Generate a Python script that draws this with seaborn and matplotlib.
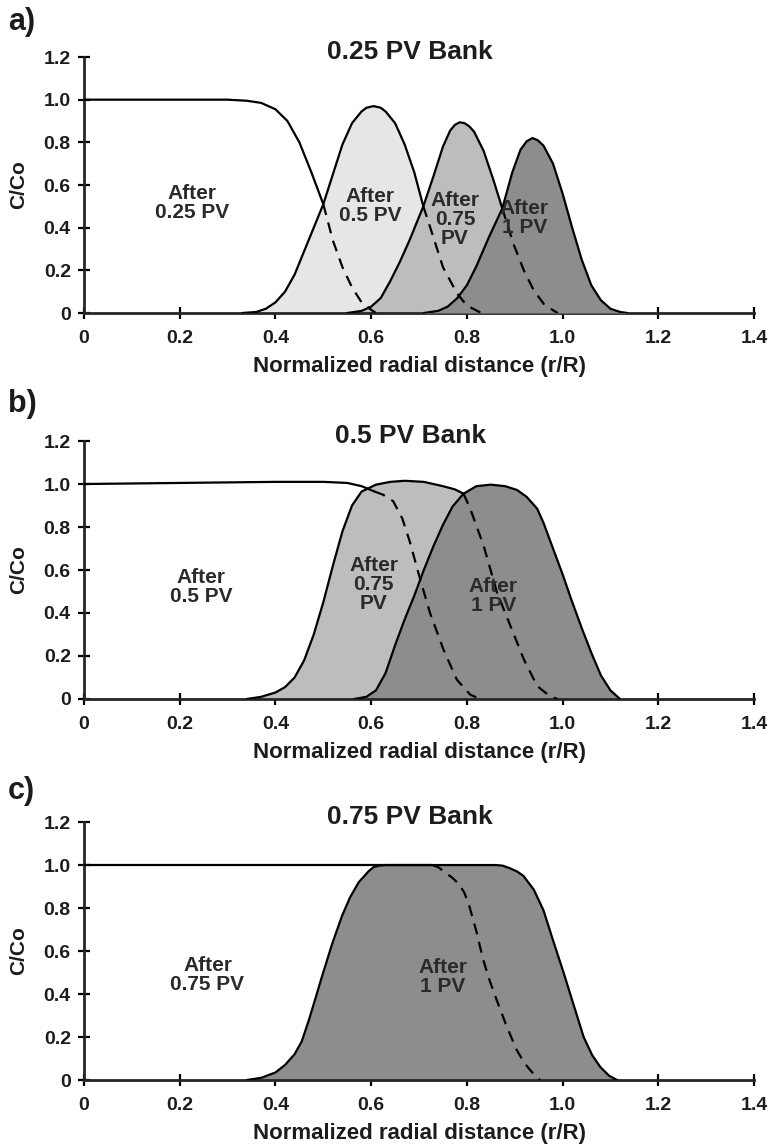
import numpy as np
import pandas as pd
import seaborn as sns
import matplotlib.pyplot as plt

# ---- panel a: 0.25 PV bank ----
a_025_x = [0, 0.30, 0.34, 0.37, 0.40, 0.425, 0.45, 0.475, 0.50, 0.52, 0.54, 0.56, 0.58, 0.60, 0.61]
a_025_y = [1.0, 1.0, 0.995, 0.985, 0.955, 0.90, 0.80, 0.66, 0.51, 0.34, 0.215, 0.12, 0.05, 0.015, 0.0]

a_05_x = [0.33, 0.36, 0.38, 0.40, 0.42, 0.44, 0.46, 0.48, 0.50, 0.52, 0.54, 0.56, 0.58, 0.59, 0.605,
          0.62, 0.63, 0.65, 0.67, 0.69, 0.709, 0.73, 0.75, 0.78, 0.80, 0.82, 0.83]
a_05_y = [0, 0.005, 0.02, 0.05, 0.10, 0.18, 0.29, 0.40, 0.51, 0.65, 0.79, 0.89, 0.945, 0.962, 0.97,
          0.962, 0.945, 0.89, 0.79, 0.66, 0.50, 0.355, 0.215, 0.09, 0.035, 0.012, 0.0]

a_075_x = [0.55, 0.58, 0.60, 0.62, 0.64, 0.66, 0.68, 0.709, 0.73, 0.75, 0.765, 0.775, 0.785, 0.795,
           0.805, 0.815, 0.835, 0.856, 0.874, 0.898, 0.919, 0.94, 0.961, 0.982, 0.99]
a_075_y = [0, 0.01, 0.03, 0.07, 0.15, 0.24, 0.34, 0.50, 0.64, 0.78, 0.855, 0.882, 0.894, 0.89,
           0.875, 0.85, 0.76, 0.62, 0.49, 0.32, 0.20, 0.105, 0.042, 0.01, 0.0]

a_1_x = [0.71, 0.74, 0.76, 0.78, 0.80, 0.82, 0.845, 0.874, 0.895, 0.912, 0.925, 0.937, 0.948, 0.96,
         0.98, 1.0, 1.02, 1.04, 1.06, 1.08, 1.10, 1.12, 1.135]
a_1_y = [0, 0.01, 0.03, 0.07, 0.13, 0.22, 0.35, 0.49, 0.66, 0.765, 0.805, 0.82, 0.81, 0.785,
         0.70, 0.56, 0.40, 0.25, 0.13, 0.06, 0.02, 0.005, 0.0]

# ---- panel b: 0.5 PV bank ----
b_05_x = [0, 0.2, 0.4, 0.5, 0.55, 0.58, 0.607, 0.625, 0.646, 0.665, 0.681, 0.702, 0.723, 0.751,
          0.779, 0.807, 0.828]
b_05_y = [1.0, 1.005, 1.01, 1.01, 1.005, 0.99, 0.965, 0.95, 0.92, 0.84, 0.73, 0.56, 0.40, 0.23,
          0.09, 0.02, 0.0]

b_075_x = [0.34, 0.37, 0.40, 0.42, 0.44, 0.46, 0.48, 0.50, 0.52, 0.54, 0.56, 0.58, 0.61, 0.64,
           0.67, 0.71, 0.75, 0.775, 0.793, 0.807, 0.835, 0.863, 0.891, 0.919, 0.947, 0.975, 0.99]
b_075_y = [0, 0.01, 0.03, 0.055, 0.10, 0.18, 0.30, 0.45, 0.62, 0.78, 0.90, 0.965, 0.997, 1.01,
           1.015, 1.01, 0.99, 0.975, 0.955, 0.885, 0.713, 0.495, 0.34, 0.184, 0.06, 0.01, 0.0]

b_1_x = [0.565, 0.59, 0.61, 0.63, 0.65, 0.67, 0.69, 0.71, 0.73, 0.75, 0.77, 0.793, 0.82, 0.85,
         0.88, 0.905, 0.925, 0.947, 0.96, 0.975, 1.0, 1.018, 1.04, 1.06, 1.08, 1.10, 1.12]
b_1_y = [0, 0.01, 0.04, 0.12, 0.25, 0.37, 0.48, 0.60, 0.71, 0.81, 0.895, 0.955, 0.99, 0.997,
         0.99, 0.972, 0.94, 0.885, 0.82, 0.73, 0.58, 0.464, 0.33, 0.215, 0.11, 0.04, 0.0]

# ---- panel c: 0.75 PV bank ----
c_075_x = [0, 0.3, 0.6, 0.728, 0.74, 0.755, 0.77, 0.784, 0.795, 0.805, 0.82, 0.834, 0.848, 0.862,
           0.883, 0.904, 0.92, 0.932, 0.945, 0.953]
c_075_y = [1.0, 1.0, 1.0, 1.0, 0.99, 0.965, 0.94, 0.91, 0.87, 0.81, 0.69, 0.56, 0.46, 0.374,
           0.25, 0.14, 0.08, 0.047, 0.015, 0.0]

c_1_x = [0.34, 0.37, 0.40, 0.42, 0.44, 0.455, 0.47, 0.485, 0.497, 0.518, 0.539, 0.556, 0.574,
         0.595, 0.605, 0.616, 0.63, 0.70, 0.80, 0.862, 0.875, 0.89, 0.905, 0.918, 0.94, 0.96,
         0.98, 1.002, 1.023, 1.044, 1.062, 1.079, 1.097, 1.114]
c_1_y = [0, 0.01, 0.035, 0.07, 0.12, 0.18, 0.28, 0.39, 0.48, 0.63, 0.763, 0.85, 0.92,
         0.972, 0.99, 0.997, 1.0, 1.0, 1.0, 1.0, 0.997, 0.985, 0.97, 0.95, 0.885, 0.79,
         0.65, 0.50, 0.35, 0.20, 0.115, 0.06, 0.02, 0.0]

x_ticks = [0, 0.2, 0.4, 0.6, 0.8, 1.0, 1.2, 1.4]
x_ticklabels = ['0', '0.2', '0.4', '0.6', '0.8', '1.0', '1.2', '1.4']
y_ticks = [0, 0.2, 0.4, 0.6, 0.8, 1.0, 1.2]
y_ticklabels = ['0', '0.2', '0.4', '0.6', '0.8', '1.0', '1.2']

LIGHT, MID, DARK = '#e6e6e6', '#bdbdbd', '#8d8d8d'
TXT = '#1c1c1c'

sns.set_style('ticks')
plt.rcParams['font.family'] = ['Liberation Sans', 'DejaVu Sans']
plt.rcParams['font.weight'] = 'bold'

# curvas: (x, y, x onde começa a cauda tracejada, cor de preenchimento)
paineis = [
    dict(letra='a)', titulo='0.25 PV Bank',
         curvas=[(a_025_x, a_025_y, 0.50, None), (a_05_x, a_05_y, 0.709, LIGHT),
                 (a_075_x, a_075_y, 0.874, MID), (a_1_x, a_1_y, None, DARK)],
         textos=[(0.226, 0.518, 'After\n0.25 PV'), (0.598, 0.50, 'After\n0.5 PV'),
                 (0.775, 0.436, 'After\n0.75\nPV'), (0.92, 0.445, 'After\n1 PV')]),
    dict(letra='b)', titulo='0.5 PV Bank',
         curvas=[(b_05_x, b_05_y, 0.607, None), (b_075_x, b_075_y, 0.793, MID),
                 (b_1_x, b_1_y, None, DARK)],
         textos=[(0.244, 0.52, 'After\n0.5 PV'), (0.605, 0.534, 'After\n0.75\nPV'),
                 (0.855, 0.477, 'After\n1 PV')]),
    dict(letra='c)', titulo='0.75 PV Bank',
         curvas=[(c_075_x, c_075_y, 0.728, None), (c_1_x, c_1_y, None, DARK)],
         textos=[(0.258, 0.49, 'After\n0.75 PV'), (0.75, 0.48, 'After\n1 PV')]),
]

fig = plt.figure(figsize=(7.68, 11.47), dpi=100)
posicoes = [[0.1094, 0.7271, 0.8724, 0.2232],
            [0.1094, 0.3906, 0.8724, 0.2249],
            [0.1094, 0.0584, 0.8724, 0.2249]]
letra_y = [0.981, 0.648, 0.310]

for p, pos, ly in zip(paineis, posicoes, letra_y):
    ax = fig.add_axes(pos)
    z = 1
    for x, y, corte, cor in p['curvas']:
        df = pd.DataFrame({'x': x, 'y': y})
        if cor is not None:
            ax.fill_between(df['x'], 0, df['y'], color=cor, lw=0, zorder=z)
            z += 1
        if corte is None:
            solido, cauda = df, None
        else:
            solido, cauda = df[df['x'] <= corte], df[df['x'] >= corte]
        sns.lineplot(data=solido, x='x', y='y', ax=ax, color='black', lw=1.6,
                     sort=False, estimator=None, zorder=10)
        if cauda is not None:
            sns.lineplot(data=cauda, x='x', y='y', ax=ax, color='black', lw=1.6,
                         linestyle=(0, (5, 3.5)), sort=False, estimator=None, zorder=10)

    for tx, ty, s in p['textos']:
        ax.text(tx, ty, s, ha='center', va='center', fontsize=15, color='#2a2a2a',
                fontweight='bold', linespacing=1.0, zorder=20)

    ax.text(0.487, 1.02, p['titulo'], transform=ax.transAxes, ha='center', va='center',
            fontsize=19, fontweight='bold', color=TXT)
    fig.text(0.01, ly, p['letra'], ha='left', va='center', fontsize=22, fontweight='bold',
             color=TXT)

    ax.set_xlim(0, 1.4)
    ax.set_ylim(0, 1.2)
    ax.set_xticks(x_ticks, x_ticklabels)
    ax.set_yticks(y_ticks, y_ticklabels)
    ax.set_xlabel('Normalized radial distance (r/R)', fontsize=16, fontweight='bold',
                  labelpad=6, color=TXT)
    ax.set_ylabel('C/Co', fontsize=15, fontweight='bold', labelpad=11, color=TXT)
    ax.tick_params(direction='inout', length=9, width=1.6, labelsize=14, pad=5,
                   colors='black', labelcolor=TXT)
    ax.tick_params(axis='x', pad=8)
    for lab in ax.get_xticklabels() + ax.get_yticklabels():
        lab.set_fontweight('bold')
    sns.despine(ax=ax)
    ax.spines['left'].set_linewidth(2)
    ax.spines['bottom'].set_linewidth(2)
    ax.patch.set_alpha(0)

fig.savefig('out.png', dpi=100)
